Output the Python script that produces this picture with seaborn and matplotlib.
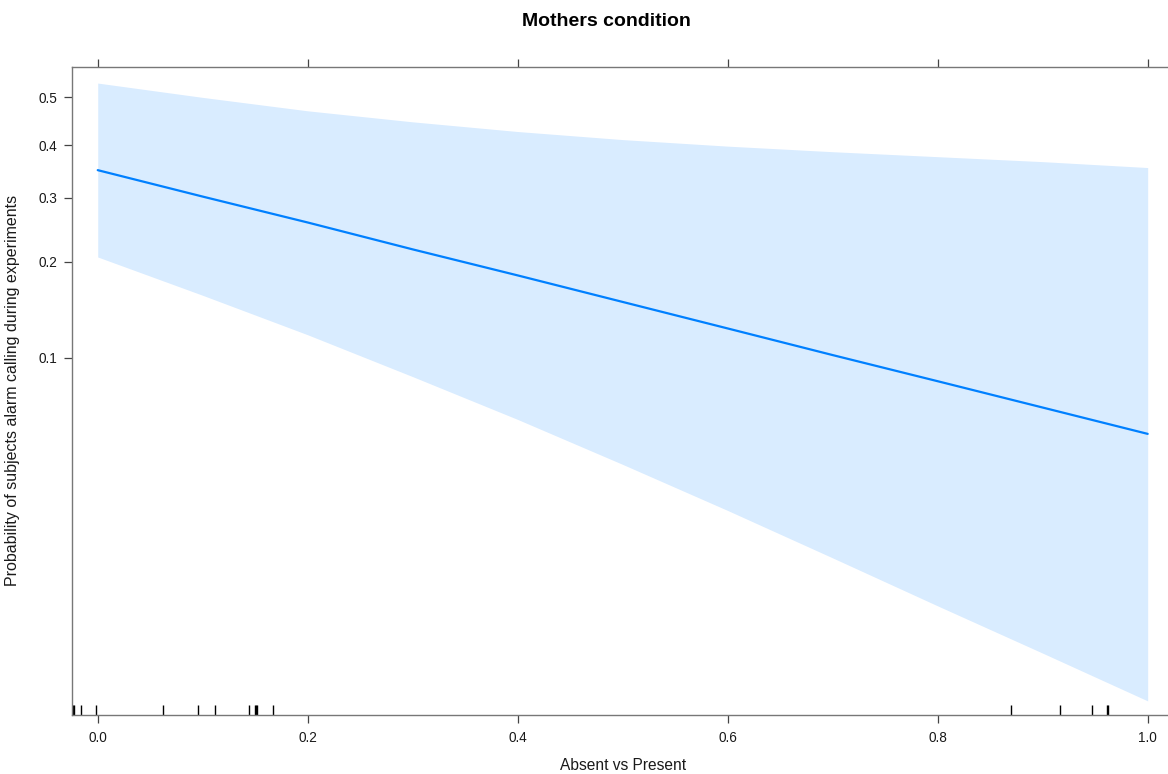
import numpy as np
import pandas as pd
import matplotlib
matplotlib.use("Agg")
import matplotlib.pyplot as plt
import seaborn as sns

# ---- data ----
x_grid = [0.0, 0.1, 0.2, 0.3, 0.4, 0.5, 0.6, 0.7, 0.8, 0.9, 1.0]
fit = [0.351, 0.302, 0.258, 0.217, 0.182, 0.151, 0.1245, 0.102, 0.0835, 0.068, 0.0552]
upper = [0.530, 0.4998, 0.4715, 0.4484, 0.4283, 0.4117, 0.3984, 0.3872, 0.3773, 0.3675, 0.356]
lower = [0.2063, 0.1583, 0.1188, 0.0865, 0.0619, 0.0432, 0.0297, 0.0201, 0.0135, 0.0091, 0.0061]
rug_x = [-0.024, -0.0226, -0.0156, -0.0016, 0.062, 0.0955, 0.112, 0.1438, 0.1495,
         0.1508, 0.152, 0.1667, 0.8698, 0.9168, 0.9467, 0.9615, 0.9625]
x_ticks = [0.0, 0.2, 0.4, 0.6, 0.8, 1.0]
x_ticklabels = ["0.0", "0.2", "0.4", "0.6", "0.8", "1.0"]
y_ticks = [0.1, 0.2, 0.3, 0.4, 0.5]
y_ticklabels = ["0.1", "0.2", "0.3", "0.4", "0.5"]
title = "Mothers condition"
xlabel = "Absent vs Present"
ylabel = "Probability of subjects alarm calling during experiments"

df = pd.DataFrame({"x": x_grid, "fit": fit, "upper": upper, "lower": lower})

sns.set_style("white")
plt.rcParams["font.family"] = ["Liberation Sans", "DejaVu Sans"]

W, H = 1168, 774
fig = plt.figure(figsize=(W / 100, H / 100), dpi=100)
left, right, top, bottom = 72, 1173.4, 66.7, 715
ax = fig.add_axes([left / W, 1 - bottom / H, (right - left) / W, (bottom - top) / H])

ax.set_yscale("logit")
ax.fill_between(df["x"], df["lower"], df["upper"], color="#D9ECFF", lw=0, zorder=1)
sns.lineplot(data=df, x="x", y="fit", ax=ax, color="#0080FF", lw=1.6, zorder=3)
sns.rugplot(x=rug_x, ax=ax, height=10 / (bottom - top), color="black", lw=1.0, clip_on=True)

ax.set_xlim(-0.0245, 1.0245)
ax.set_ylim(0.00542, 0.5642)

ax.set_xticks(x_ticks)
ax.set_xticklabels(x_ticklabels)
ax.set_yticks(y_ticks)
ax.set_yticklabels(y_ticklabels)
ax.yaxis.set_minor_locator(matplotlib.ticker.NullLocator())
ax.xaxis.set_minor_locator(matplotlib.ticker.NullLocator())

ax.tick_params(axis="x", which="major", bottom=True, top=True, labelbottom=True, labeltop=False,
               direction="out", length=5.5, width=0.9, color="#444444", labelsize=9.8, pad=6,
               labelcolor="#1a1a1a")
ax.tick_params(axis="y", which="major", left=True, right=False, direction="out", length=5.5,
               width=0.9, color="#444444", labelsize=9.8, pad=5, labelcolor="#1a1a1a")

for s in ax.spines.values():
    s.set_color("#777777")
    s.set_linewidth(1.0)
    s.set_visible(True)

ax.set_xlabel(xlabel, fontsize=11.2, color="#1a1a1a")
ax.xaxis.set_label_coords(0.5, -(765 - bottom) / (bottom - top))
ax.xaxis.label.set_va("center")
ax.set_ylabel(ylabel, fontsize=11.5, color="#1a1a1a")
ax.yaxis.set_label_coords((20 - left) / (right - left), 0.5)

fig.text(606.7 / W, 1 - 21 / H, title, ha="center", va="center", fontsize=14,
         fontweight="bold", color="black")

fig.savefig("out.png", dpi=100)
